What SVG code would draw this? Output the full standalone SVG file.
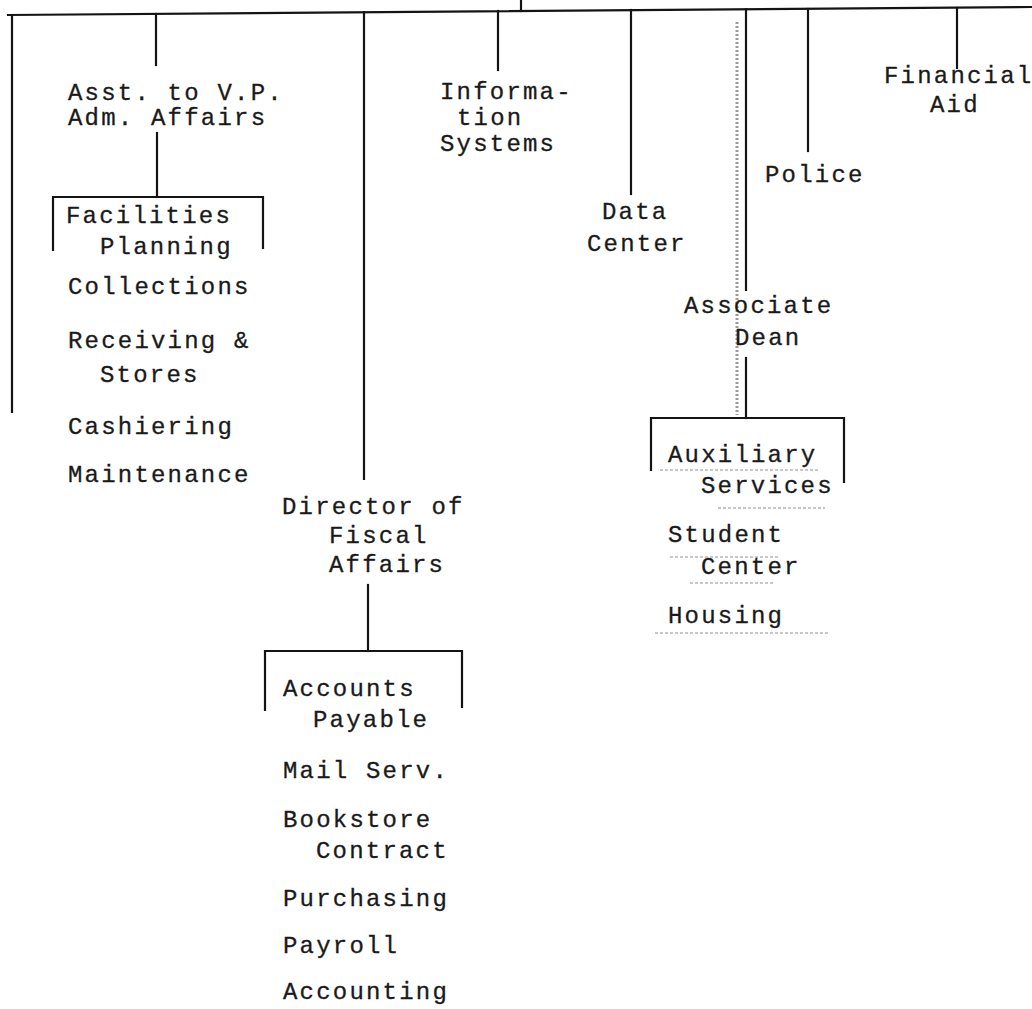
<svg xmlns="http://www.w3.org/2000/svg" width="1032" height="1009" viewBox="0 0 1032 1009">
<style>
.t{font-family:"Liberation Mono","DejaVu Sans Mono",monospace;font-size:24px;letter-spacing:2.2px;fill:#1a1a1a;stroke:#1a1a1a;stroke-width:0.3}
.c{stroke:#141414;stroke-width:2.2;fill:none;stroke-linecap:square}
.d{stroke:#9a9a9a;stroke-width:3;fill:none;stroke-dasharray:2 2}
.n{stroke:#c8c8c8;stroke-width:2;fill:none;stroke-dasharray:3 2}
</style>
<rect width="1032" height="1009" fill="#fff"/>
<g id="connectors">
<path class="c" d="M8,15 L1032,7"/>
<path class="c" d="M521,0 V11"/>
<path class="c" d="M12,15 V412"/>
<path class="c" d="M156,14 V65"/>
<path class="c" d="M157,133 V197"/>
<path class="c" d="M53,250 V197 H263 V248"/>
<path class="c" d="M364,12 V479"/>
<path class="c" d="M368,585 V651"/>
<path class="c" d="M265,710 V651 H462 V707"/>
<path class="c" d="M498,11 V70"/>
<path class="c" d="M631,10 V194"/>
<path class="d" d="M737,22 V415"/>
<path class="c" d="M746,9 V290"/>
<path class="c" d="M746,358 V418"/>
<path class="c" d="M651,470 V418 H844 V482"/>
<path class="c" d="M808,9 V151"/>
<path class="c" d="M957,8 V68"/>
</g>
<g id="scan-marks">
<path class="n" d="M660,470 H820"/>
<path class="n" d="M718,508 H825"/>
<path class="n" d="M670,557 H780"/>
<path class="n" d="M690,583 H775"/>
<path class="n" d="M655,633 H830"/>
</g>
<g id="asst-vp"><text class="t" x="68" y="100">Asst. to V.P.</text><text class="t" x="68" y="125">Adm. Affairs</text></g>
<g id="facilities-planning"><text class="t" x="66" y="223">Facilities</text><text class="t" x="100" y="254">Planning</text></g>
<g id="collections"><text class="t" x="68" y="294">Collections</text></g>
<g id="receiving-stores"><text class="t" x="68" y="348">Receiving &amp;</text><text class="t" x="100" y="382">Stores</text></g>
<g id="cashiering"><text class="t" x="68" y="434">Cashiering</text></g>
<g id="maintenance"><text class="t" x="68" y="482">Maintenance</text></g>
<g id="information-systems"><text class="t" x="440" y="99">Informa-</text><text class="t" x="457" y="125">tion</text><text class="t" x="440" y="151">Systems</text></g>
<g id="financial-aid"><text class="t" x="884" y="83">Financial</text><text class="t" x="930" y="112">Aid</text></g>
<g id="police"><text class="t" x="765" y="182">Police</text></g>
<g id="data-center"><text class="t" x="602" y="219">Data</text><text class="t" x="587" y="251">Center</text></g>
<g id="associate-dean"><text class="t" x="684" y="313">Associate</text><text class="t" x="735" y="345">Dean</text></g>
<g id="auxiliary-services"><text class="t" x="668" y="462">Auxiliary</text><text class="t" x="701" y="493">Services</text></g>
<g id="student-center"><text class="t" x="668" y="542">Student</text><text class="t" x="701" y="574">Center</text></g>
<g id="housing"><text class="t" x="668" y="623">Housing</text></g>
<g id="director-fiscal"><text class="t" x="282" y="514">Director of</text><text class="t" x="329" y="543">Fiscal</text><text class="t" x="329" y="572">Affairs</text></g>
<g id="accounts-payable"><text class="t" x="283" y="696">Accounts</text><text class="t" x="313" y="727">Payable</text></g>
<g id="mail-serv"><text class="t" x="283" y="778">Mail Serv.</text></g>
<g id="bookstore-contract"><text class="t" x="283" y="827">Bookstore</text><text class="t" x="316" y="858">Contract</text></g>
<g id="purchasing"><text class="t" x="283" y="906">Purchasing</text></g>
<g id="payroll"><text class="t" x="283" y="953">Payroll</text></g>
<g id="accounting"><text class="t" x="283" y="999">Accounting</text></g>
</svg>
